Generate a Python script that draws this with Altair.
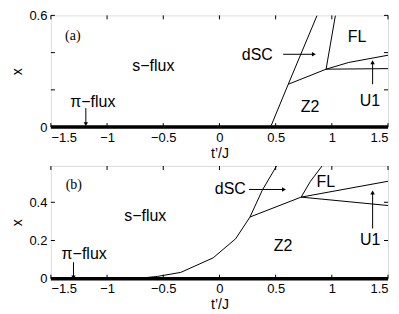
import altair as alt
import pandas as pd

T_TICKS = [-1.5, -1, -0.5, 0, 0.5, 1, 1.5]
A_YTICKS = [0, 0.2, 0.4, 0.6]
B_YTICKS = [0, 0.2, 0.4]

# ---- panel (a) phase boundaries (t'/J, x)
a_lines = {
    "a1": ([0.455, 0.612, 0.869], [0.0, 0.230, 0.6]),
    "a2": ([0.612, 0.949], [0.230, 0.311]),
    "a3": ([0.949, 1.032], [0.311, 0.6]),
    "a4": ([0.949, 1.15, 1.5], [0.311, 0.347, 0.386]),
    "a5": ([0.949, 1.5], [0.311, 0.314]),
}
# ---- panel (b) phase boundaries
b_lines = {
    "b1": ([-0.75, -0.55, -0.344, -0.056, 0.144, 0.272, 0.381, 0.508],
           [0.0, 0.012, 0.033, 0.109, 0.209, 0.323, 0.463, 0.59]),
    "b2": ([0.272, 0.727], [0.323, 0.427]),
    "b3": ([0.727, 0.81, 0.913], [0.427, 0.51, 0.59]),
    "b4": ([0.727, 1.5], [0.427, 0.51]),
    "b5": ([0.727, 1.5], [0.427, 0.383]),
}

a_text = ["(a)", "s\u2212flux", "\u03c0\u2212flux", "dSC", "FL", "Z2", "U1"]
a_text_t = [-1.305, -0.588, -1.127, 0.337, 1.224, 0.807, 1.339]
a_text_x = [0.487, 0.327, 0.137, 0.388, 0.482, 0.107, 0.139]

b_text = ["(b)", "s\u2212flux", "\u03c0\u2212flux", "dSC", "FL", "Z2", "U1"]
b_text_t = [-1.296, -0.66, -1.204, 0.097, 0.947, 0.565, 1.342]
b_text_x = [0.489, 0.328, 0.13, 0.467, 0.507, 0.170, 0.2]

# arrows: start (t, x) -> end (t, x), head shape
a_arrows = [(-1.189, 0.102, -1.189, 0.016, "triangle-down"),
            (0.567, 0.391, 0.84, 0.391, "triangle-right"),
            (1.363, 0.230, 1.363, 0.348, "triangle-up")]
b_arrows = [(-1.299, 0.086, -1.299, 0.007, "triangle-down"),
            (0.263, 0.467, 0.574, 0.467, "triangle-right"),
            (1.363, 0.263, 1.363, 0.451, "triangle-up")]

FONT = "Liberation Sans"
W = 338


def panel(lines, texts, tt, tx, arrows, ydom, yticks, H):
    xs = alt.Scale(domain=[-1.5, 1.5], nice=False)
    ys = alt.Scale(domain=ydom, nice=False, zero=False)
    rows = []
    for name, (ts, xv) in lines.items():
        for i, (t, x) in enumerate(zip(ts, xv)):
            rows.append({"seg": name, "i": i, "t": t, "x": x})
    ldf = pd.DataFrame(rows)
    base_x = alt.X("t:Q", scale=xs, axis=alt.Axis(
        values=T_TICKS, format="~g", title="t\u2019/J", ticks=False, grid=False,
        domain=False, labelFont=FONT, labelFontSize=13, titleFont=FONT,
        titleFontSize=14, titleFontWeight="normal", labelPadding=4,
        titlePadding=2, labelColor="black", titleColor="black"))
    base_y = alt.Y("x:Q", scale=ys, axis=alt.Axis(
        values=yticks, format="~g", title="x", ticks=False, grid=False,
        domain=False, labelFont=FONT, labelFontSize=13, titleFont=FONT,
        titleFontSize=14, titleFontWeight="normal", labelPadding=4,
        titlePadding=4, labelColor="black", titleColor="black"))
    line = alt.Chart(ldf).mark_line(color="black", strokeWidth=1, clip=True).encode(
        x=base_x, y=base_y, detail="seg:N", order="i:Q")

    thick = alt.Chart(pd.DataFrame({"t": [-1.5], "t2": [1.5], "x": [0.0]})).mark_rule(
        color="black", strokeWidth=3.5).encode(
        x=alt.X("t:Q", scale=xs), x2="t2:Q", y=alt.Y("x:Q", scale=ys))

    tdf = pd.DataFrame({"label": texts, "t": tt, "x": tx})
    tdf["serif"] = tdf["label"].isin(["(a)", "(b)"])
    txt = alt.Chart(tdf[~tdf.serif]).mark_text(font=FONT, fontSize=16, color="black").encode(
        x=alt.X("t:Q", scale=xs), y=alt.Y("x:Q", scale=ys), text="label:N")
    txt2 = alt.Chart(tdf[tdf.serif]).mark_text(font="Liberation Serif", fontSize=14, color="black").encode(
        x=alt.X("t:Q", scale=xs), y=alt.Y("x:Q", scale=ys), text="label:N")

    adf = pd.DataFrame(arrows, columns=["t", "x", "t2", "x2", "shape"])
    arr = alt.Chart(adf).mark_rule(color="black", strokeWidth=1).encode(
        x=alt.X("t:Q", scale=xs), y=alt.Y("x:Q", scale=ys), x2="t2:Q", y2="x2:Q")
    heads = alt.Chart(adf).mark_point(filled=True, color="black", size=20, opacity=1).encode(
        x=alt.X("t2:Q", scale=xs), y=alt.Y("x2:Q", scale=ys),
        shape=alt.Shape("shape:N", scale=None))

    tick_len = 4
    xt = pd.DataFrame({"t": T_TICKS})
    bt = alt.Chart(xt).mark_rule(color="black").encode(
        x=alt.X("t:Q", scale=xs), y=alt.value(H), y2=alt.value(H - tick_len))
    tt_ = alt.Chart(xt).mark_rule(color="black").encode(
        x=alt.X("t:Q", scale=xs), y=alt.value(0), y2=alt.value(tick_len))
    yt = pd.DataFrame({"x": yticks})
    lt = alt.Chart(yt).mark_rule(color="black").encode(
        y=alt.Y("x:Q", scale=ys), x=alt.value(0), x2=alt.value(tick_len))
    rt = alt.Chart(yt).mark_rule(color="black").encode(
        y=alt.Y("x:Q", scale=ys), x=alt.value(W), x2=alt.value(W - tick_len))

    return alt.layer(line, thick, arr, heads, txt, txt2, bt, tt_, lt, rt).properties(
        width=W, height=H)


pa = panel(a_lines, a_text, a_text_t, a_text_x, a_arrows, [0, 0.6], A_YTICKS, 112)
pb = panel(b_lines, b_text, b_text_t, b_text_x, b_arrows, [0, 0.59], B_YTICKS, 113)

chart = alt.vconcat(pa, pb, spacing=39, bounds="flush").configure_view(
    stroke="#333", strokeWidth=1).configure(
    padding={"left": 2, "top": 0, "right": 0, "bottom": 0}, background="white")

chart.save("out.html", embed_options={"renderer": "svg", "actions": False})
